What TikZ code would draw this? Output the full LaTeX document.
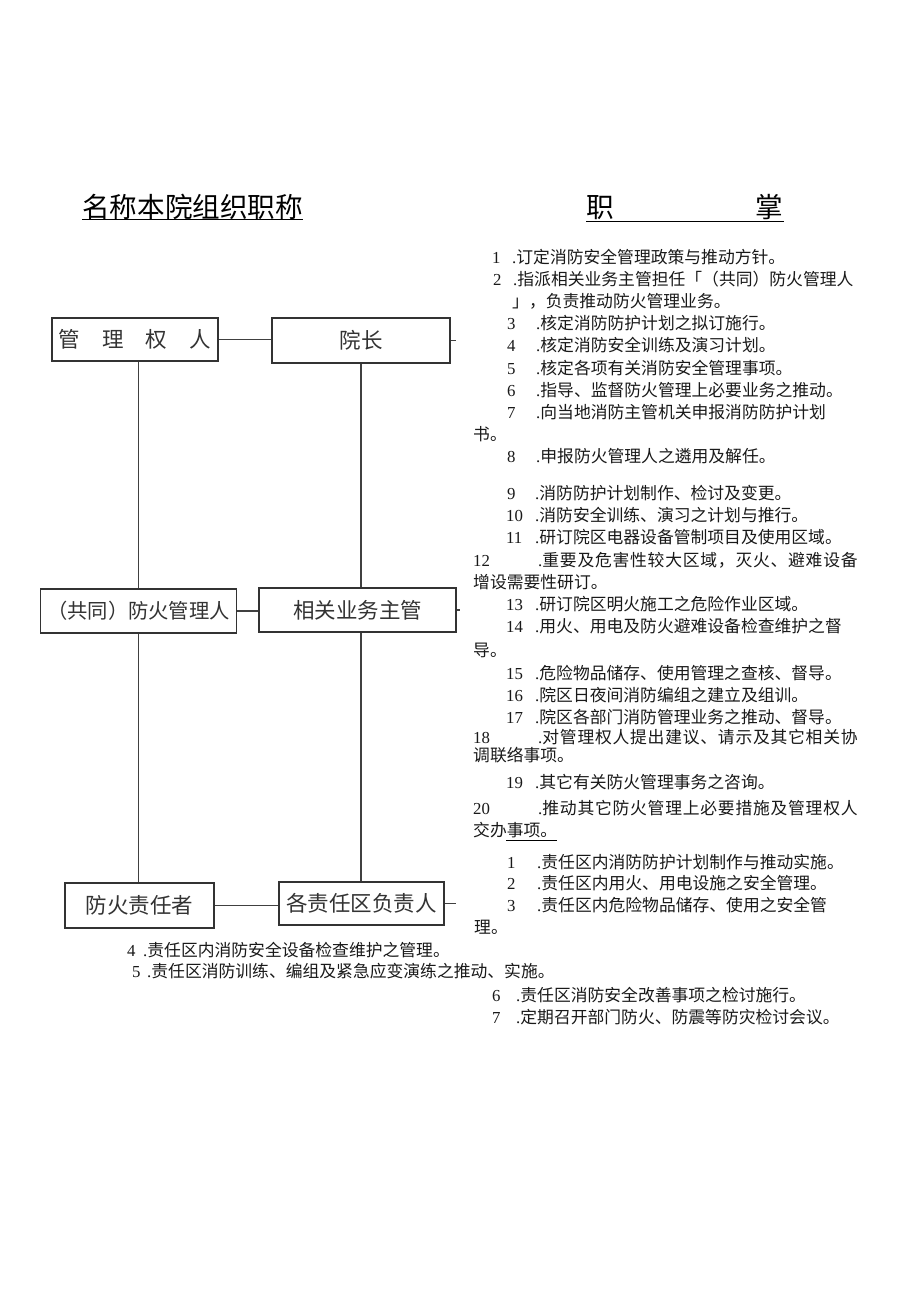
\documentclass[tikz,border=0pt]{standalone}
\usepackage{fontspec}
\setmainfont{Liberation Serif}
\newfontfamily\cjk{Noto Sans CJK SC}
\newfontfamily\cjkwide[LetterSpace=4.5]{Noto Sans CJK SC}
\newcommand\ItemL[6]{\node[txt] (#1n) at (#2,#6) {#3}; \node[txt] (#1) at (#4,#6) {.\cjk #5};}
\newcommand\ItemW[6]{\node[txt] (#1n) at (#2,#6) {#3}; \node[txt] (#1) at (#4,#6) {.\cjkwide #5};}
\newcommand\ContL[4]{\node[txt] (#1) at (#2,#4) {\cjk #3};}
\begin{document}
\begin{tikzpicture}[x=1bp,y=-1bp,
  txt/.style={anchor=base west, inner sep=0pt, font=\fontsize{16.8bp}{20bp}\selectfont, text=black!90},
  box/.style={draw=black!80, line width=1.3bp, inner sep=0pt, font=\cjk\fontsize{21.5bp}{24bp}\selectfont, text=black!80},
  conn/.style={draw=black!75, line width=1.1bp},
  title/.style={anchor=base west, inner sep=0pt, font=\cjk\fontsize{27.6bp}{30bp}\selectfont}]
\useasboundingbox[fill=white] (0,0) rectangle (920,1301);

% titles
\node[title] (tl) at (82,217.5) {名称本院组织职称};
\node[title] (tr) at (586,218) {职\hspace{142bp}掌};
\draw[line width=1bp] ([yshift=-2.5bp]tl.base west) -- ([yshift=-2.5bp]tl.base east);
\draw[line width=1bp] ([yshift=-4bp]tr.base west) -- ([yshift=-4bp]tr.base east);

% boxes
\node[box, minimum width=166bp, minimum height=43bp] (mgr) at (135,339.5) {管\hspace{22bp}理\hspace{22bp}权\hspace{22bp}人};
\node[box, minimum width=178bp, minimum height=45bp] (yz) at (361,340.5) {院长};
\node[box, minimum width=196bp, minimum height=44bp, font=\cjk\fontsize{20.3bp}{24bp}\selectfont] (fm) at (138.5,611) {（共同）防火管理人};
\node[box, minimum width=197bp, minimum height=44bp] (xg) at (357.5,610) {相关业务主管};
\node[box, minimum width=149bp, minimum height=45bp] (fr) at (139.5,905.5) {防火责任者};
\node[box, minimum width=165bp, minimum height=43bp] (gz) at (361.5,903.5) {各责任区负责人};

% connectors
\coordinate (s1) at (456,340.5);
\coordinate (s2) at (460,610);
\coordinate (s3) at (456,903.5);
\draw[conn] (mgr.east) -- (mgr.east -| yz.west);
\draw[conn] (yz.east) -- (s1);
\draw[conn] (fm.north |- mgr.south) -- (fm.north);
\draw[conn] (fm.south) -- (fm.south |- fr.north);
\draw[conn] (yz.south) -- (yz.south |- xg.north);
\draw[conn] (yz.south |- xg.south) -- (yz.south |- gz.north);
\draw[conn] (fm.east) -- (fm.east -| xg.west);
\draw[conn] (xg.east) -- (s2);
\draw[conn] (fr.east) -- (fr.east -| gz.west);
\draw[conn] (gz.east) -- (s3);

% duties
\ItemL{a1}{492}{1}{512}{订定消防安全管理政策与推动方针。}{264}
\ItemL{a2}{493}{2}{513}{指派相关业务主管担任「（共同）防火管理人}{286}
\ContL{a2c}{512}{」，负责推动防火管理业务。}{308}
\ItemL{a3}{507}{3}{536}{核定消防防护计划之拟订施行。}{329}
\ItemL{a4}{507}{4}{536}{核定消防安全训练及演习计划。}{351}
\ItemL{a5}{507}{5}{536}{核定各项有关消防安全管理事项。}{374}
\ItemL{a6}{507}{6}{536}{指导、监督防火管理上必要业务之推动。}{396}
\ItemL{a7}{507}{7}{536}{向当地消防主管机关申报消防防护计划}{418}
\ContL{a7c}{473}{书。}{440}
\ItemL{a8}{507}{8}{536}{申报防火管理人之遴用及解任。}{462}
\ItemL{a9}{507}{9}{535}{消防防护计划制作、检讨及变更。}{499}
\ItemL{a10}{506}{10}{535}{消防安全训练、演习之计划与推行。}{521}
\ItemL{a11}{506}{11}{535}{研订院区电器设备管制项目及使用区域。}{543}
\ItemW{a12}{473}{12}{538}{重要及危害性较大区域，灭火、避难设备}{566}
\ContL{a12c}{473}{增设需要性研订。}{588}
\ItemL{a13}{506}{13}{535}{研订院区明火施工之危险作业区域。}{610}
\ItemL{a14}{506}{14}{535}{用火、用电及防火避难设备检查维护之督}{632}
\ContL{a14c}{473}{导。}{656}
\ItemL{a15}{506}{15}{535}{危险物品储存、使用管理之查核、督导。}{679}
\ItemL{a16}{506}{16}{535}{院区日夜间消防编组之建立及组训。}{701}
\ItemL{a17}{506}{17}{535}{院区各部门消防管理业务之推动、督导。}{723}
\ItemW{a18}{473}{18}{538}{对管理权人提出建议、请示及其它相关协}{743}
\ContL{a18c}{473}{调联络事项。}{761}
\ItemL{a19}{506}{19}{535}{其它有关防火管理事务之咨询。}{788}
\ItemW{a20}{473}{20}{538}{推动其它防火管理上必要措施及管理权人}{814}
\ContL{a20c}{473}{交办事项。}{836}
\draw[line width=0.8bp] (506,840) -- (557,840);
\ItemL{b1}{507}{1}{537}{责任区内消防防护计划制作与推动实施。}{868}
\ItemL{b2}{507}{2}{537}{责任区内用火、用电设施之安全管理。}{889}
\ItemL{b3}{507}{3}{537}{责任区内危险物品储存、使用之安全管}{911}
\ContL{b3c}{474}{理。}{933}
\ItemL{b4}{127}{4}{143}{责任区内消防安全设备检查维护之管理。}{956}
\ItemL{b5}{132}{5}{147}{责任区消防训练、编组及紧急应变演练之推动、实施。}{977}
\ItemL{b6}{492}{6}{516}{责任区消防安全改善事项之检讨施行。}{1001}
\ItemL{b7}{492}{7}{516}{定期召开部门防火、防震等防灾检讨会议。}{1023}
\end{tikzpicture}
\end{document}
